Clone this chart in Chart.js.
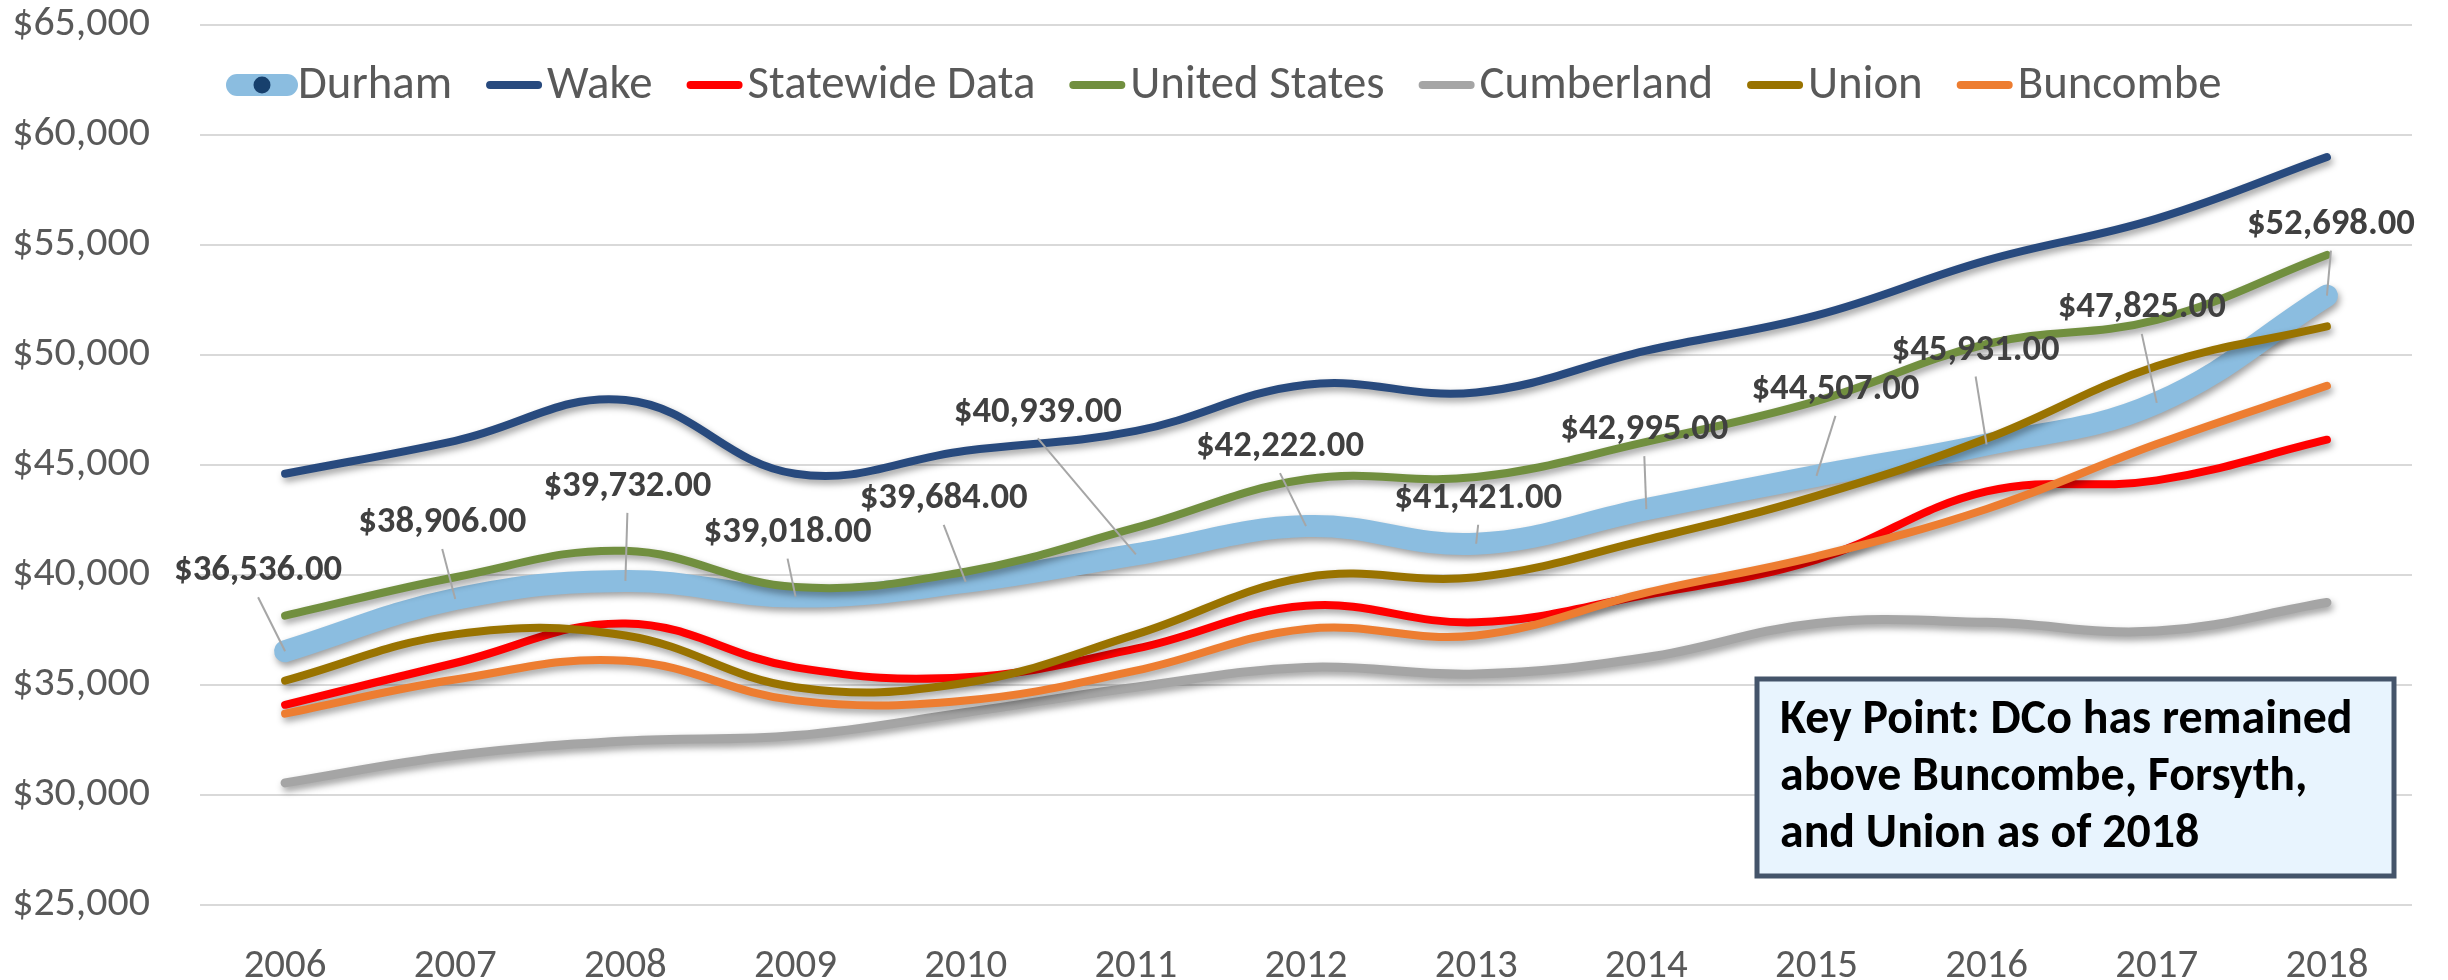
<!DOCTYPE html>
<html><head><meta charset="utf-8">
<script src="https://cdn.jsdelivr.net/npm/chart.js@4/dist/chart.umd.min.js"></script>
<style>html,body{margin:0;padding:0;background:#fff;}#wrap{width:2448px;height:980px;}</style>
</head><body><div id="wrap"><canvas id="c" width="2448" height="980"></canvas></div>
<script>
// ---- data ----
const years = ['2006','2007','2008','2009','2010','2011','2012','2013','2014','2015','2016','2017','2018'];
const durham      = [36536,38906,39732,39018,39684,40939,42222,41421,42995,44507,45931,47825,52698];
const wake        = [44600,46100,47950,44600,45650,46550,48650,48300,50200,51800,54300,56200,59000];
const statewide   = [34100,36000,37800,35800,35350,36650,38600,37850,39100,40700,43800,44300,46150];
const unitedStates= [38150,39900,41100,39450,40150,42150,44350,44450,46050,47900,50500,51600,54550];
const cumberland  = [30550,31800,32450,32700,33750,34900,35800,35500,36250,37800,37850,37450,38750];
const union       = [35200,37300,37250,34900,35100,37300,39900,39900,41600,43600,46200,49500,51300];
const buncombe    = [33700,35250,36100,34300,34300,35650,37550,37250,39200,40850,43000,45950,48600];
const seriesNames = ['Durham','Wake','Statewide Data','United States','Cumberland','Union','Buncombe'];
const yTickValues = [25000,30000,35000,40000,45000,50000,55000,60000,65000];
const keyPointLines = ['Key Point: DCo has remained','above Buncombe, Forsyth,','and Union as of 2018'];

// ---- styles / layout ----
const seriesValues = [durham,wake,statewide,unitedStates,cumberland,union,buncombe];
const colors = ['#8BBDE0','#284A7E','#FF0000','#718F3F','#A5A5A5','#997300','#ED7D31'];
const widths = [22,8,8,8,9,8,8];
const labelOffsets = [[-27,-80],[-13,-76],[2,-94],[-8,-64],[-22,-83],[-98,-142],[-26,-79],[2,-45],[-2,-79],[19,-86],[-11,-94],[-15,-95],[4,-71]];
const FAMILY = 'Carlito, Calibri, Lato, sans-serif';
const AREA = {left:200,right:2412,top:25,bottom:905};

// font sizes fitted to the text widths measured on the reference
const mctx = document.createElement('canvas').getContext('2d');
function fit(text, weight, target){ mctx.font = weight+' 100px '+FAMILY; return Math.round(100*target/mctx.measureText(text).width*10)/10; }
const fmtMoney = v => '$'+v.toLocaleString('en-US');
const fmtLabel = v => '$'+v.toLocaleString('en-US',{minimumFractionDigits:2,maximumFractionDigits:2});
const Y_SIZE = fit(fmtMoney(65000),'normal',138);
const X_SIZE = fit(years[0],'normal',83);
const LEG_SIZE = fit(seriesNames[0],'normal',154);
const LBL_SIZE = fit(fmtLabel(durham[0]),'bold',168);
const KEY_SIZE = fit(keyPointLines[0],'bold',573);

const datasets = seriesNames.map((n,i)=>({
  label:n, data:seriesValues[i], borderColor:colors[i], backgroundColor:colors[i],
  borderWidth:widths[i], pointRadius:0, pointHoverRadius:0, tension:0.4, fill:false,
  borderCapStyle:'round', borderJoinStyle:'round', order:seriesNames.length-i
}));

const areaPlugin = {
  id:'fixArea',
  afterLayout(c){
    const ca=c.chartArea, x=c.scales.x, y=c.scales.y;
    ca.left=AREA.left; ca.right=AREA.right; ca.top=AREA.top; ca.bottom=AREA.bottom;
    ca.width=AREA.right-AREA.left; ca.height=AREA.bottom-AREA.top;
    y.top=AREA.top; y.bottom=AREA.bottom; y.height=ca.height; y.left=0; y.right=AREA.left; y.width=AREA.left;
    x.left=AREA.left; x.right=AREA.right; x.width=ca.width; x.top=AREA.bottom; x.bottom=980; x.height=980-AREA.bottom;
    x.configure(); y.configure();
  }
};
const bgPlugin = {id:'bg', beforeDraw(c){const x=c.ctx;x.save();x.fillStyle='#fff';x.fillRect(0,0,c.width,c.height);x.restore();}};
const shadowPlugin = {
  id:'shadow',
  beforeDatasetDraw(c){const x=c.ctx;x.save();x.shadowColor='rgba(0,0,0,0.38)';x.shadowBlur=7;x.shadowOffsetX=2;x.shadowOffsetY=4;},
  afterDatasetDraw(c){c.ctx.restore();}
};
const legendPlugin = {
  id:'customLegend',
  afterDraw(c){
    const x=c.ctx; x.save();
    x.font=LEG_SIZE+'px '+FAMILY; x.textBaseline='middle'; x.textAlign='left';
    let px=226; const py=85;
    c.data.datasets.forEach((d,i)=>{
      x.lineCap='round';
      if(i===0){
        x.strokeStyle=d.borderColor; x.lineWidth=22;
        x.beginPath(); x.moveTo(px+11,py); x.lineTo(px+61,py); x.stroke();
        x.fillStyle='#17406D'; x.beginPath(); x.arc(px+36,py,8.5,0,Math.PI*2); x.fill();
        px+=72;
      } else {
        x.strokeStyle=d.borderColor; x.lineWidth=8;
        x.beginPath(); x.moveTo(px+4,py); x.lineTo(px+52,py); x.stroke();
        px+=61;
      }
      x.fillStyle='#595959'; x.fillText(d.label,px,py+1);
      px+=x.measureText(d.label).width+34;
    });
    x.restore();
  }
};
const labelPlugin = {
  id:'durhamLabels',
  afterDatasetsDraw(c){
    const x=c.ctx; const meta=c.getDatasetMeta(0); x.save();
    x.font='bold '+LBL_SIZE+'px '+FAMILY; x.textAlign='center'; x.textBaseline='middle';
    meta.data.forEach((pt,i)=>{
      const v=c.data.datasets[0].data[i];
      const lx=pt.x+labelOffsets[i][0], ly=pt.y+labelOffsets[i][1];
      x.strokeStyle='#A6A6A6'; x.lineWidth=2;
      x.beginPath(); x.moveTo(lx,ly+26); x.lineTo(pt.x,pt.y); x.stroke();
      x.fillStyle='#404040';
      x.fillText(fmtLabel(v),lx,ly);
    });
    x.restore();
  }
};
const boxPlugin = {
  id:'keyPoint',
  afterDraw(c){
    const x=c.ctx; x.save();
    x.fillStyle='#E8F4FE'; x.fillRect(1757,679,637,197);
    x.strokeStyle='#44546A'; x.lineWidth=5; x.strokeRect(1757,679,637,197);
    x.fillStyle='#000'; x.font='bold '+KEY_SIZE+'px '+FAMILY; x.textBaseline='middle'; x.textAlign='left';
    keyPointLines.forEach((t,i)=>x.fillText(t,1780,721+i*57));
    x.restore();
  }
};

new Chart(document.getElementById('c'),{
  type:'line',
  data:{labels:years,datasets},
  options:{
    responsive:false, animation:false, devicePixelRatio:1,
    layout:{padding:{left:0,right:36,top:25,bottom:0}},
    plugins:{legend:{display:false},tooltip:{enabled:false}},
    scales:{
      x:{offset:true,grid:{display:false},border:{display:false},
         ticks:{color:'#595959',font:{family:FAMILY,size:X_SIZE},padding:29},
         afterFit(s){s.height=75;}},
      y:{min:25000,max:65000,
         afterBuildTicks(s){s.ticks=yTickValues.map(v=>({value:v}));},
         grid:{color:'#D9D9D9',lineWidth:2,drawTicks:false},border:{display:false},
         ticks:{color:'#595959',font:{family:FAMILY,size:Y_SIZE},padding:50,callback:v=>fmtMoney(v)},
         afterFit(s){s.width=200;}}
    }
  },
  plugins:[areaPlugin,bgPlugin,shadowPlugin,legendPlugin,labelPlugin,boxPlugin]
});
</script></body></html>
